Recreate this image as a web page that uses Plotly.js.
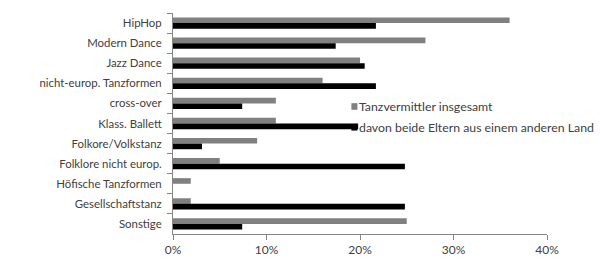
<!DOCTYPE html>
<html><head><meta charset="utf-8">
<script src="https://cdn.plot.ly/plotly-3.0.1.min.js"></script>
<style>body{margin:0;background:#fff}#c{width:600px;height:265px}</style>
</head><body><div id="c"></div>
<script>
const categories = ["HipHop","Modern Dance","Jazz Dance","nicht-europ. Tanzformen","cross-over","Klass. Ballett","Folkore/Volkstanz","Folklore nicht europ.","Höfische Tanzformen","Gesellschaftstanz","Sonstige"];
const insgesamt = [36, 27, 20, 16, 11, 11, 9, 5, 1.9, 1.9, 25];
const elternAndererLand = [21.7, 17.4, 20.5, 21.7, 7.4, 19.8, 3.1, 24.8, 0, 24.8, 7.4];
const seriesNames = ["Tanzvermittler insgesamt", "davon beide Eltern aus einem anderen Land"];
const seriesColors = ["#808080", "#000000"];
const xTickVals = [0, 10, 20, 30, 40];
const xTickText = ["0%", "10%", "20%", "30%", "40%"];

const font = {family: "Lato, 'Open Sans', sans-serif", size: 12, color: "#404040"};
const labelFont = {family: "Lato, 'Open Sans', sans-serif", size: 11.4, color: "#404040"};
const legendFont = {family: "Lato, 'Open Sans', sans-serif", size: 12.3, color: "#404040"};
const data = [
  {type: "bar", orientation: "h", y: categories, x: insgesamt, name: seriesNames[0], marker: {color: seriesColors[0]}},
  {type: "bar", orientation: "h", y: categories, x: elternAndererLand, name: seriesNames[1], marker: {color: seriesColors[1]}}
];
// custom legend (small squares next to text, like the original)
const legY = [[0.562, 0.592], [0.468, 0.498]];
const legTextY = [0.578, 0.482];
const shapes = seriesNames.map((n, i) => ({type: "rect", xref: "paper", yref: "paper",
  x0: 0.477, x1: 0.493, y0: legY[i][0], y1: legY[i][1], fillcolor: seriesColors[i], line: {width: 0}, layer: "above"}));
const annotations = seriesNames.map((n, i) => ({xref: "paper", yref: "paper", x: 0.492, y: legTextY[i],
  xanchor: "left", yanchor: "middle", text: n, showarrow: false, font: legendFont}));
const layout = {
  width: 600, height: 265,
  margin: {l: 172.5, r: 53, t: 13.3, b: 31, autoexpand: false},
  paper_bgcolor: "#fff", plot_bgcolor: "#fff",
  font: font,
  barmode: "group", bargap: 0.44, bargroupgap: 0,
  showlegend: false,
  shapes: shapes, annotations: annotations,
  xaxis: {range: [0, 40], tickvals: xTickVals, ticktext: xTickText, showgrid: false, zeroline: false,
          showline: true, linecolor: "#868686", linewidth: 1, ticks: "outside", ticklen: 5, tickcolor: "#868686",
          tickfont: font},
  yaxis: {autorange: "reversed", type: "category", showgrid: false, zeroline: false,
          showline: true, linecolor: "#868686", linewidth: 1, ticks: "outside", ticklen: 5, tickcolor: "#868686",
          tickson: "boundaries", tickfont: labelFont, ticklabelstandoff: 8}
};
Plotly.newPlot("c", data, layout, {displayModeBar: false, staticPlot: true});
</script></body></html>
